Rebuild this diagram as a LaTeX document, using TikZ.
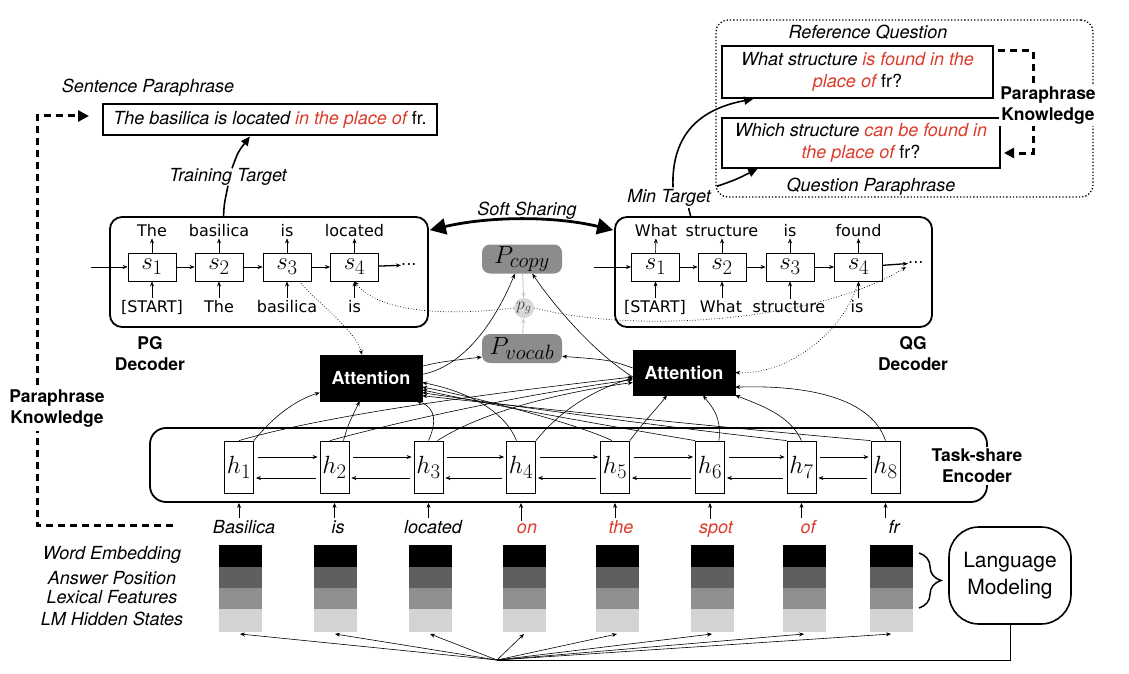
\documentclass[tikz,border=0pt]{standalone}
\usepackage{fontspec}
\usetikzlibrary{arrows.meta,calc,decorations.pathreplacing}
\newfontfamily\hv{TeX Gyre Heros}
\newfontfamily\cw{DejaVu Sans}
\definecolor{pred}{HTML}{DC3A2A}
\definecolor{pgray}{HTML}{8C8C8C}
\definecolor{lgray}{HTML}{D8D8D8}
\definecolor{gA}{HTML}{5F5F5F}
\definecolor{gB}{HTML}{8F8F8F}
\definecolor{gC}{HTML}{D3D3D3}
\begin{document}
\begin{tikzpicture}[x=1pt,y=-1pt,
  lab/.style={font=\hv\itshape\fontsize{18}{21}\selectfont, inner sep=0pt},
  bl/.style={font=\hv\bfseries\fontsize{17.5}{21}\selectfont, align=center, inner sep=0pt},
  cwd/.style={font=\cw\fontsize{16}{18}\selectfont, inner sep=0pt, anchor=base},
  sbox/.style={draw, line width=0.8pt, minimum width=48pt, minimum height=28pt, inner sep=0pt, font=\Huge},
  hbox/.style={draw, line width=0.8pt, minimum width=29pt, minimum height=52pt, inner sep=0pt, font=\Huge},
  tbox/.style={draw, line width=2pt, inner sep=0pt, align=center, font=\hv\itshape\fontsize{18}{22}\selectfont},
  decbox/.style={draw, line width=1.8pt, rounded corners=12pt, inner sep=0pt},
  ar/.style={line width=0.6pt, -{Stealth[length=5pt,width=4pt]}},
  attn/.style={draw, fill=black, text=white, font=\hv\bfseries\fontsize{18}{20}\selectfont, minimum width=102pt, minimum height=46pt, inner sep=0pt},
  pbox/.style={fill=pgray, rounded corners=8pt, minimum width=80pt, minimum height=29pt, inner sep=0pt, font=\Huge},
  dsh/.style={line width=3pt, dash pattern=on 7pt off 5pt},
  dotc/.style={line width=0.7pt, dotted, -{Stealth[length=5pt,width=4pt]}},
  thk/.style={line width=1.6pt},
  bigtip/.style={-{Triangle[length=9pt,width=8pt]}},
]
\useasboundingbox (0,0) rectangle (1129,674);

% ---------------- top left
\node[lab] (sptitle) at (148,88) {Sentence Paraphrase};
\node[tbox, minimum width=334pt, minimum height=31pt] (sent) at (270,120) {The basilica is located \textcolor{pred}{in the place of} {\upshape fr.}};
\node[decbox, minimum width=318pt, minimum height=110pt] (pg) at (269,272) {};
\node[lab] (tt) at (228,177) {Training Target};
\coordinate (ttA) at ($(pg.north west)!0.358!(pg.north east)$);
\draw[thk] (ttA) .. controls (224,205) .. (tt.south);
\draw[thk,bigtip] ($(tt.north)+(4,0)$) .. controls (238,152) .. ($(sent.south west)!0.44!(sent.south east)$);

% PG decoder cells
\node[sbox] (ps1) at (152,267) {$s_1$};
\node[sbox] (ps2) at (219,267) {$s_2$};
\node[sbox] (ps3) at (287,267) {$s_3$};
\node[sbox] (ps4) at (354.5,267) {$s_4$};
\node[cwd] (pt1) at (152,236) {The};
\node[cwd] (pt2) at (219,236) {basilica};
\node[cwd] (pt3) at (287,236) {is};
\node[cwd] (pt4) at (354.5,236) {located};
\node[cwd] (pb1) at (152,312) {[START]};
\node[cwd] (pb2) at (219,312) {The};
\node[cwd] (pb3) at (287,312) {basilica};
\node[cwd] (pb4) at (354.5,312) {is};
\foreach \i in {1,...,4}{
  \draw[ar, shorten >=2pt] (ps\i.north) -- (pt\i.south);
  \draw[ar, shorten <=2pt] (pb\i.north) -- (ps\i.south);
}
\coordinate (pin) at (91,267);
\draw[ar] (pin) -- (ps1);
\draw[ar] (ps1) -- (ps2);
\draw[ar] (ps2) -- (ps3);
\draw[ar] (ps3) -- (ps4);
\node[cwd, anchor=west] (pdots) at (401,265) {...};
\draw[ar, line width=1.3pt] (ps4) -- (pdots);
\node[bl] (pgl) at (150,354) {PG\\Decoder};

% ---------------- QG decoder
\node[decbox, minimum width=317pt, minimum height=110pt] (qg) at (773.5,272) {};
\node[sbox] (qs1) at (655.5,267) {$s_1$};
\node[sbox] (qs2) at (722,267) {$s_2$};
\node[sbox] (qs3) at (790,267) {$s_3$};
\node[sbox] (qs4) at (858.5,267) {$s_4$};
\node[cwd] (qt1) at (656,236) {What};
\node[cwd] (qt2) at (722,236) {structure};
\node[cwd] (qt3) at (790,236) {is};
\node[cwd] (qt4) at (858.5,236) {found};
\node[cwd] (qb1) at (655,312) {[START]};
\node[cwd] (qb2) at (721,312) {What};
\node[cwd] (qb3) at (789,312) {structure};
\node[cwd] (qb4) at (857,312) {is};
\foreach \i in {1,...,4}{
  \draw[ar, shorten >=2pt] (qs\i.north) -- (qt\i.south);
  \draw[ar, shorten <=2pt] (qs\i.south |- qb\i.north) -- (qs\i.south);
}
\coordinate (qin) at (594,267);
\draw[ar] (qin) -- (qs1);
\draw[ar] (qs1) -- (qs2);
\draw[ar] (qs2) -- (qs3);
\draw[ar] (qs3) -- (qs4);
\node[cwd, anchor=west] (qdots) at (908,263) {...};
\draw[ar, line width=1.3pt] (qs4) -- (qdots);
\node[bl] (qgl) at (913,354) {QG\\Decoder};

% soft sharing
\node[lab] (ss) at (527,211) {Soft Sharing};
\draw[line width=2.8pt, {Triangle[length=16pt,width=16pt]}-{Triangle[length=16pt,width=16pt]}] ($(pg.north east)+(1,14)$) .. controls (490,216) and (555,216) .. ($(qg.north west)+(-1,14)$);

% ---------------- top right
\node[draw, dotted, line width=1.3pt, rounded corners=12pt, minimum width=377pt, minimum height=177pt] (dbox) at (904.5,108.5) {};
\node[lab] (rq) at (868,32) {Reference Question};
\node[tbox, minimum width=271pt, minimum height=52pt] (ref) at (857.5,72) {What structure \textcolor{pred}{is found in the}\\\textcolor{pred}{place of} {\upshape fr?}};
\node[tbox, minimum width=278pt, minimum height=50pt] (qp) at (861,143) {Which structure \textcolor{pred}{can be found in}\\\textcolor{pred}{the place of} {\upshape fr?}};
\node[lab] (qpl) at (871,187) {Question Paraphrase};
\coordinate (rk) at (1033,153);
\draw[dsh, -{Triangle[length=10pt,width=10pt]}] ($(ref.north east)+(4,6)$) -| (rk) -- ($(qp.east)+(3,10)$);
\node[bl, fill=white, inner sep=1.5pt] (pkr) at (1048,106) {Paraphrase\\Knowledge};

\node[lab] (mt) at (669,198) {Min Target};
\draw[thk,bigtip] ($(mt.north)+(4,-2)$) .. controls (671,130) and (705,108) .. ($(ref.south west)!0.118!(ref.south east)$);
\draw[thk,bigtip] ($(mt.north east)+(6,-3)$) .. controls (735,180) .. ($(qp.south west)!0.13!(qp.south east)$);
\coordinate (qgt) at ($(qg.north west)!0.24!(qg.north east)$);
\draw[thk] (qgt) -- ($(qgt)+(-2,-8)$);

% ---------------- left dashed
\coordinate (dl0) at (173,525);
\coordinate (dl1) at (37,525);
\coordinate (dl2) at (37,116);
\draw[dsh, -{Triangle[length=11pt,width=11pt]}] (dl0) -- (dl1) -- (dl2) -- ($(sent.west)+(-13,-4)$);
\node[bl, fill=white, inner sep=3pt] (pkl) at (57,409) {Paraphrase\\Knowledge};

% ---------------- pointer / generator
\node[pbox] (pc) at (522,259) {$P_{copy}$};
\node[pbox] (pv) at (522,348.5) {$P_{vocab}$};
\node[circle, fill=lgray, minimum size=20pt, inner sep=0pt, text=black!75, font=\LARGE] (pgn) at (524,308) {$p_g$};
\draw[line width=0.9pt, draw=black!22, -{Stealth[length=5pt,width=4pt]}] (pc) -- (pgn);
\draw[line width=0.9pt, draw=black!22, -{Stealth[length=5pt,width=4pt]}] (pv) -- (pgn);

% ---------------- encoder
\node[decbox, rounded corners=16pt, minimum width=837pt, minimum height=74pt] (enc) at (568.5,465) {};
\node[hbox] (h1) at (239,467) {$h_1$};
\node[hbox] (h2) at (334.5,467) {$h_2$};
\node[hbox] (h3) at (428.5,467) {$h_3$};
\node[hbox] (h4) at (521,467) {$h_4$};
\node[hbox] (h5) at (615,467) {$h_5$};
\node[hbox] (h6) at (710,467) {$h_6$};
\node[hbox] (h7) at (801.5,467) {$h_7$};
\node[hbox] (h8) at (885.5,467) {$h_8$};
\foreach \a/\b in {1/2,2/3,3/4,4/5,5/6,6/7,7/8}{
  \draw[ar] ($(h\a.east)+(4,-10)$) -- ($(h\b.west)+(-2,-10)$);
  \draw[ar] ($(h\b.west)+(-4,11)$) -- ($(h\a.east)+(2,11)$);
}
\node[bl, fill=white, inner sep=2pt] (enclab) at (977,466) {Task-share\\Encoder};

% attention boxes
\node[attn] (la) at (371,378) {Attention};
\node[attn, minimum height=45pt] (ra) at (684,372.5) {Attention};

% encoder -> left attention
\draw[ar] (h1.north east) .. controls (272,418) and (295,400) .. (la.196);
\draw[ar] ($(h2.north)!0.6!(h2.north east)$) .. controls (348,425) .. (la.244);
\draw[ar] (h3.north) .. controls (440,415) and (430,405) .. (la.333);
\draw[ar] ($(h4.north)!0.3!(h4.north west)$) .. controls (505,412) and (470,392) .. (la.-5);
\draw[ar] ($(h5.north)!0.2!(h5.north west)$) .. controls (580,425) and (480,398) .. (la.-10);
\draw[ar] (h6.north west) .. controls (620,428) and (490,405) .. (la.-13);
\draw[ar] (h7.north west) .. controls (690,430) and (510,406) .. (la.-16);
\draw[ar] (h8.north west) .. controls (770,432) and (530,408) .. (la.-19);
% encoder -> right attention
\draw[ar] (h1.north) .. controls (330,414) and (500,392) .. (ra.185);
\draw[ar] ($(h2.north)!0.3!(h2.north west)$) .. controls (420,416) and (540,392) .. (ra.188);
\draw[ar] ($(h3.north)!0.6!(h3.north east)$) .. controls (485,410) and (565,392) .. (ra.191);
\draw[ar] (h4.north east) .. controls (565,405) and (600,388) .. (ra.186);
\draw[ar] (h5.north east) .. controls (645,420) and (660,405) .. (ra.233);
\draw[ar] ($(h6.north)!0.6!(h6.north east)$) .. controls (722,415) and (710,405) .. (ra.310);
\draw[ar] (h7.north) .. controls (790,415) and (760,405) .. (ra.south east);
\draw[ar] (h8.north) .. controls (870,395) and (800,385) .. (ra.-16);
% attention -> distributions
\draw[ar] (la.4) .. controls (470,365) and (500,310) .. (pc.244);
\draw[ar] (la.13) .. controls (440,362) .. (pv.192);
\draw[ar] (ra.185) .. controls (590,350) and (550,300) .. (pc.-55);
\draw[ar] (ra.175) .. controls (610,360) .. (pv.-11);

% dotted decoder links
\draw[dotc] ($(ps3.south)!0.5!(ps3.south east)$) .. controls (325,310) and (355,330) .. ($(la.north)+(-9,0)$);
\draw[dotc] (qs4.south) .. controls (845,330) and (790,375) .. (ra.east);
\draw[dotc] (pgn.west) .. controls (430,318) and (375,308) .. (ps4.south);
\draw[dotc] (pgn.east) .. controls (640,335) and (820,320) .. ($(qdots.west)+(-2,4)$);

% ---------------- input words
\node[lab, anchor=base] (w1) at (244,533) {Basilica};
\node[lab, anchor=base] (w2) at (338,533) {is};
\node[lab, anchor=base] (w3) at (433,533) {located};
\node[lab, anchor=base, text=pred] (w4) at (527,533) {on};
\node[lab, anchor=base, text=pred] (w5) at (621,533) {the};
\node[lab, anchor=base, text=pred] (w6) at (716,533) {spot};
\node[lab, anchor=base, text=pred] (w7) at (808,533) {of};
\node[lab, anchor=base] (w8) at (894,533) {fr};
\foreach \i in {1,...,8}{
  \draw[ar] (h\i |- w\i.north) ++(0,-2) -- (h\i |- enc.south);
}

% ---------------- embedding bars
\foreach \n/\x in {1/240,2/335,3/430,4/524,5/617,6/712,7/804,8/891}{
  \fill[black] ({\x-21.5},545) rectangle ({\x+21.5},567);
  \fill[gA] ({\x-21.5},567) rectangle ({\x+21.5},588);
  \fill[gB] ({\x-21.5},588) rectangle ({\x+21.5},609);
  \fill[gC] ({\x-21.5},609) rectangle ({\x+21.5},632);
  \coordinate (b\n) at (\x,634);
}
\node[lab] (le1) at (112,555) {Word Embedding};
\node[lab] (le2) at (112,578) {Answer Position};
\node[lab] (le3) at (112,597) {Lexical Features};
\node[lab] (le4) at (112,619) {LM Hidden States};

\draw[line width=1.5pt, decorate, decoration={brace, amplitude=22pt}] (919,553) -- (919,608);
\node[draw, line width=1.6pt, rounded corners=30pt, minimum width=122pt, minimum height=97pt, align=center, font=\hv\fontsize{21}{27}\selectfont] (lm) at (1010,575.5) {Language\\Modeling};

\coordinate (hub) at (497,660);
\draw[line width=0.7pt] (lm.south) -- (lm.south |- hub) -- (hub);
\foreach \n in {1,...,8}{
  \draw[ar] (hub) -- (b\n);
}
\end{tikzpicture}
\end{document}
